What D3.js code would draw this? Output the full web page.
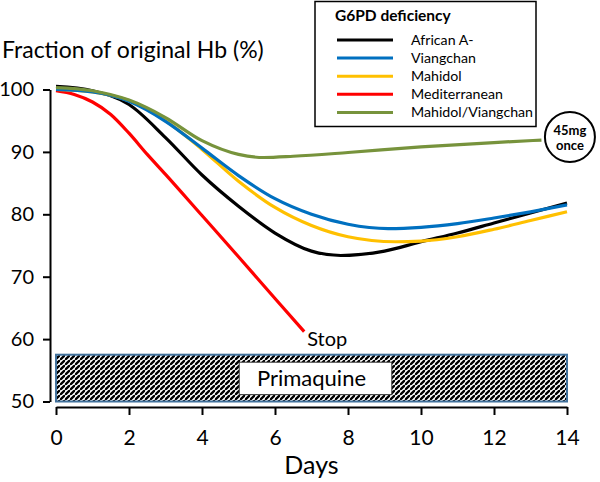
<!DOCTYPE html>
<html><head><meta charset="utf-8">
<script src="https://cdn.jsdelivr.net/npm/d3@7"></script>
<style>
body{margin:0;background:#fff;}
svg{display:block;font-family:Lato,"Open Sans",sans-serif;}
</style></head>
<body><svg id="c" width="600" height="482"></svg>
<script>
// ---- data ----
const seriesNames = ["African A-","Viangchan","Mahidol","Mediterranean","Mahidol/Viangchan"];
const seriesColors = ["#000000","#0070C0","#FFC000","#FF0000","#77933C"];
const africanDays = [0,1,2,3,4,5,6,7,7.8,9,10,11,12,13,14];
const africanVals = [100.5,99.8,97.6,92.3,86.3,81.3,77,74.1,73.4,74.1,75.6,77,78.6,80.2,81.8];
const viangDays = [0,1,2,3,4,5,6,7,8,9.1,10,11,12,13,14];
const viangVals = [100,99.6,98.1,94.9,90.6,86.2,82.5,80,78.4,77.7,77.9,78.5,79.4,80.4,81.5];
const mahidolDays = [0,1,2,3,4,5,6,7,8,9.3,10,11,12,13,14];
const mahidolVals = [100,99.6,98.2,95,90.4,85.3,81.1,78.2,76.4,75.6,75.7,76.4,77.6,79,80.4];
const mediDays = [0,0.5,1,1.5,2,2.5,3,4,5,6,6.8];
const mediVals = [99.8,99.2,98,96,93,89.6,86.4,79.8,73.2,66.5,61.2];
const mvDays = [0,1,2,3,4,5,5.7,6.5,8,10,12,13.3];
const mvVals = [100.3,99.8,98.3,95.5,91.8,89.6,89.1,89.3,89.9,90.8,91.5,91.9];
const xTicks = [0,2,4,6,8,10,12,14];
const yTicks = [50,60,70,80,90,100];

const series = [
  {days:africanDays, vals:africanVals},
  {days:viangDays, vals:viangVals},
  {days:mahidolDays, vals:mahidolVals},
  {days:mediDays, vals:mediVals},
  {days:mvDays, vals:mvVals}
];

const svg = d3.select("#c");
const x = d3.scaleLinear().domain([0,14]).range([56,567]);
const y = d3.scaleLinear().domain([50,100]).range([401.5,89.5]);

// pattern
const defs = svg.append("defs");
const pat = defs.append("pattern").attr("id","hatch").attr("patternUnits","userSpaceOnUse")
  .attr("width",5).attr("height",5);
pat.append("rect").attr("width",5).attr("height",5).attr("fill","#fff");
pat.append("path").attr("d","M-1,6 L6,-1 M-2,1 L1,-2 M4,7 L7,4")
  .attr("stroke","#000").attr("stroke-width",2.3);

// primaquine bar
svg.append("rect").attr("x",x(0)).attr("y",y(57.5)).attr("width",x(14)-x(0)).attr("height",y(50)-y(57.5))
  .attr("fill","url(#hatch)").attr("stroke","#41719C").attr("stroke-width",2);
svg.append("rect").attr("x",x(5.02)).attr("y",y(56.3)).attr("width",x(9.2)-x(5.02)).attr("height",y(51.1)-y(56.3))
  .attr("fill","#fff").attr("stroke","#333").attr("stroke-width",1);
svg.append("text").attr("x",(x(5.02)+x(9.2))/2-4).attr("y",y(51.1)-8.5).attr("text-anchor","middle")
  .attr("font-size",22).text("Primaquine");

// axes
const xAxis = svg.append("g").attr("transform",`translate(0,407)`)
  .call(d3.axisBottom(x).tickValues(xTicks).tickSize(8).tickSizeOuter(0).tickPadding(15));
const yAxis = svg.append("g").attr("transform",`translate(50,0)`)
  .call(d3.axisLeft(y).tickValues(yTicks).tickSize(7).tickSizeOuter(0).tickPadding(9));
[xAxis,yAxis].forEach(g=>{
  g.selectAll("path,line").attr("stroke","#000").attr("stroke-width",2);
  g.selectAll("text").attr("font-family","Lato").attr("font-size",21).attr("fill","#000");
});
yAxis.selectAll("text").attr("font-size",20);

// lines
const line = d3.line().x(d=>x(d[0])).y(d=>y(d[1])).curve(d3.curveMonotoneX);
const order = [3,0,2,1,4];
order.forEach(i=>{
  const s = series[i];
  svg.append("path").datum(s.days.map((d,k)=>[d,s.vals[k]]))
    .attr("d",line).attr("fill","none").attr("stroke",seriesColors[i]).attr("stroke-width",3.2)
    .attr("stroke-linecap","butt");
});

// Stop label
svg.append("text").attr("x",x(mediDays[mediDays.length-1])+3).attr("y",y(mediVals[mediVals.length-1])+14)
  .attr("font-size",20).text("Stop");

// 45mg once circle
const cx = x(14.08), cy = y(92.4);
svg.append("circle").attr("cx",cx).attr("cy",cy).attr("r",25).attr("fill","#fff")
  .attr("stroke","#000").attr("stroke-width",2);
svg.append("text").attr("x",cx).attr("y",cy-2).attr("text-anchor","middle").attr("font-weight","bold")
  .attr("font-size",13).text("45mg");
svg.append("text").attr("x",cx).attr("y",cy+13).attr("text-anchor","middle").attr("font-weight","bold")
  .attr("font-size",13).text("once");

// title and axis title
svg.append("text").attr("x",2).attr("y",58).attr("font-size",23).text("Fraction of original Hb (%)");
svg.append("text").attr("x",(x(0)+x(14))/2).attr("y",474).attr("text-anchor","middle")
  .attr("font-size",25).text("Days");

// legend
const lg = svg.append("g");
lg.append("rect").attr("x",315).attr("y",1.5).attr("width",221).attr("height",125)
  .attr("fill","#fff").attr("stroke","#000").attr("stroke-width",1.5);
lg.append("text").attr("x",335).attr("y",21).attr("font-weight","bold").attr("font-size",15.5)
  .text("G6PD deficiency");
seriesNames.forEach((n,i)=>{
  const yy = 40 + i*18.1;
  lg.append("line").attr("x1",337).attr("x2",393).attr("y1",yy).attr("y2",yy)
    .attr("stroke",seriesColors[i]).attr("stroke-width",3);
  lg.append("text").attr("x",411).attr("y",yy+5).attr("font-size",14.2).text(n);
});
</script></body></html>
